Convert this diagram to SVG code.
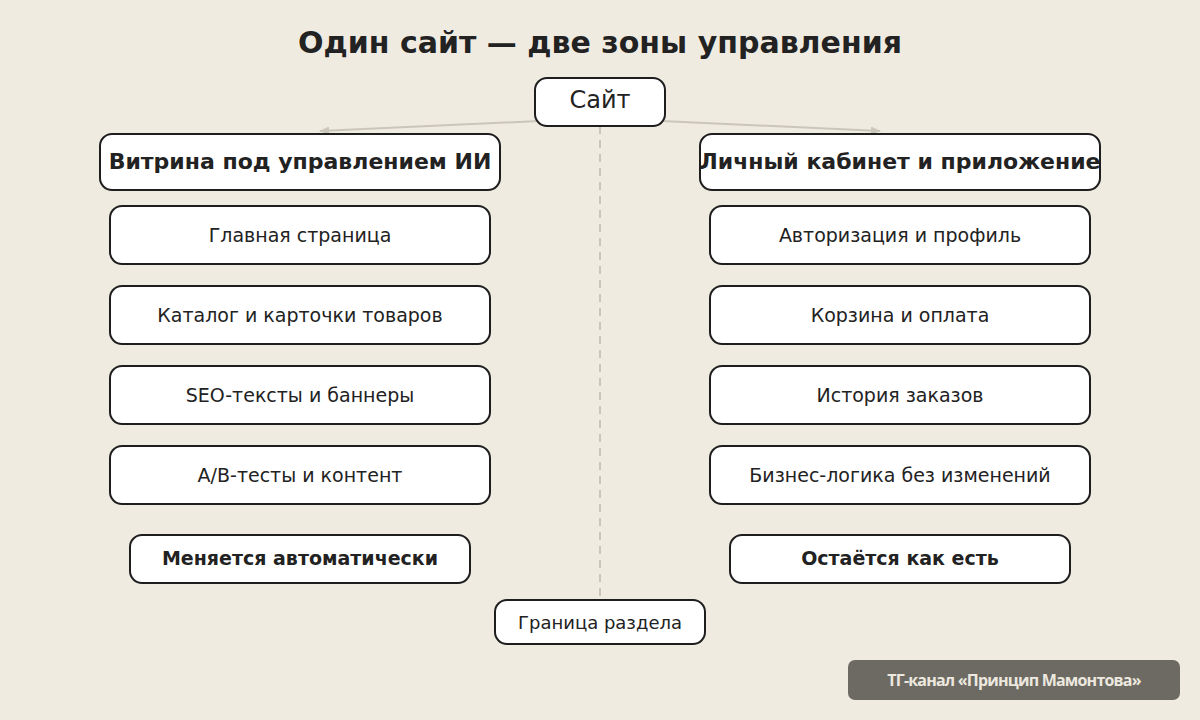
<svg xmlns="http://www.w3.org/2000/svg" width="1200" height="720" viewBox="0 0 1200 720">
<style>
text{font-family:"DejaVu Sans",sans-serif;fill:#222;text-anchor:middle;dominant-baseline:central}
.b{fill:#fff;stroke:#1e1e1e;stroke-width:2}
.t{font-size:19px}
.h{font-size:22px;font-weight:bold}
.s{font-size:19px;font-weight:bold}
.c{stroke:#cbc6ba;stroke-width:2;fill:none}
</style>
<defs><marker id="a" markerWidth="10" markerHeight="8" refX="9" refY="4" orient="auto" markerUnits="userSpaceOnUse"><path d="M0,0L10,4L0,8z" fill="#cbc6ba"/></marker></defs>
<rect width="1200" height="720" fill="#f0ebe1"/>
<text x="600" y="42" style="font-size:30px;font-weight:bold">Один сайт — две зоны управления</text>
<g id="connectors">
<line class="c" x1="560" y1="120" x2="320" y2="131" marker-end="url(#a)"/>
<line class="c" x1="640" y1="120" x2="880" y2="131" marker-end="url(#a)"/>
<line class="c" x1="600" y1="126" x2="600" y2="600" stroke-dasharray="8,6" stroke-width="3"/>
</g>
<g id="site"><rect class="b" x="535" y="78" width="130" height="48" rx="12"/><text x="600" y="100" style="font-size:24px">Сайт</text></g>
<g id="left"><rect class="b" x="100" y="134" width="400" height="56" rx="12"/><text class="h" x="300" y="161">Витрина под управлением ИИ</text></g>
<g id="right"><rect class="b" x="700" y="134" width="400" height="56" rx="12"/><text class="h" x="900" y="161">Личный кабинет и приложение</text></g>
<g id="l1"><rect class="b" x="110" y="206" width="380" height="58" rx="12"/><text class="t" x="300" y="235">Главная страница</text></g>
<g id="l2"><rect class="b" x="110" y="286" width="380" height="58" rx="12"/><text class="t" x="300" y="315">Каталог и карточки товаров</text></g>
<g id="l3"><rect class="b" x="110" y="366" width="380" height="58" rx="12"/><text class="t" x="300" y="395">SEO-тексты и баннеры</text></g>
<g id="l4"><rect class="b" x="110" y="446" width="380" height="58" rx="12"/><text class="t" x="300" y="475">A/B-тесты и контент</text></g>
<g id="r1"><rect class="b" x="710" y="206" width="380" height="58" rx="12"/><text class="t" x="900" y="235">Авторизация и профиль</text></g>
<g id="r2"><rect class="b" x="710" y="286" width="380" height="58" rx="12"/><text class="t" x="900" y="315">Корзина и оплата</text></g>
<g id="r3"><rect class="b" x="710" y="366" width="380" height="58" rx="12"/><text class="t" x="900" y="395">История заказов</text></g>
<g id="r4"><rect class="b" x="710" y="446" width="380" height="58" rx="12"/><text class="t" x="900" y="475">Бизнес-логика без изменений</text></g>
<g id="lfoot"><rect class="b" x="130" y="535" width="340" height="48" rx="12"/><text class="s" x="300" y="558">Меняется автоматически</text></g>
<g id="rfoot"><rect class="b" x="730" y="535" width="340" height="48" rx="12"/><text class="s" x="900" y="558">Остаётся как есть</text></g>
<g id="border"><rect class="b" x="495" y="600" width="210" height="44" rx="12"/><text x="600" y="622" style="font-size:18px">Граница раздела</text></g>
<g id="badge"><rect x="848" y="660" width="332" height="40" rx="7" fill="#6c6a63"/><text x="1014" y="680" style="font-family:'Open Sans',sans-serif;font-size:16px;font-weight:bold;fill:#ece8df;letter-spacing:-0.8px">ТГ-канал «Принцип Мамонтова»</text></g>
</svg>
